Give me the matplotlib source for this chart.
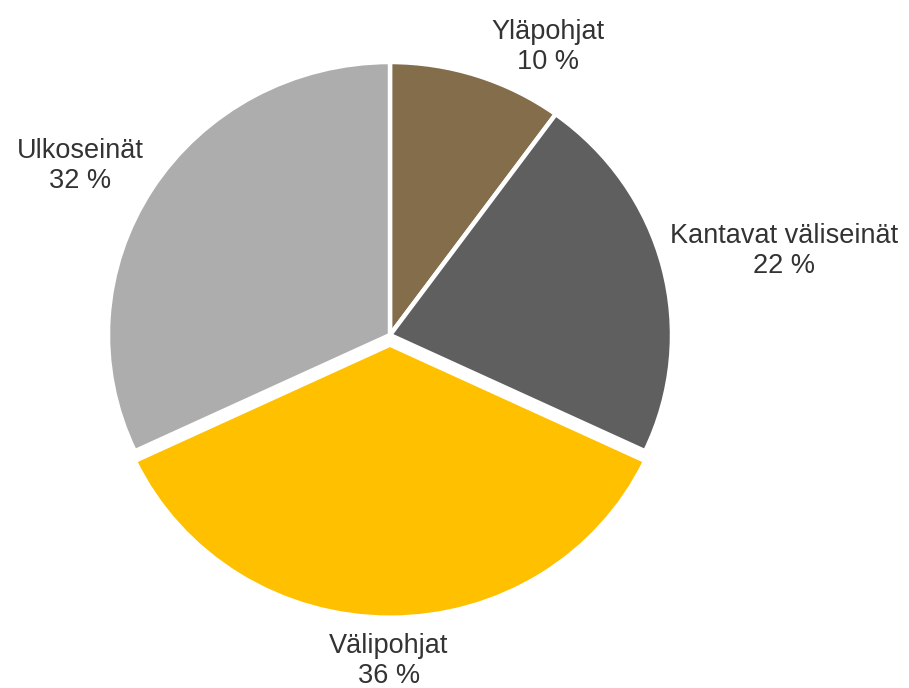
import matplotlib
matplotlib.use("Agg")
import matplotlib.pyplot as plt

# Data
labels = ["Yläpohjat", "Kantavat väliseinät", "Välipohjat", "Ulkoseinät"]
values = [10, 22, 36, 32]
colors = ["#836d4a", "#5f5f5f", "#ffc000", "#adadad"]
explode_px = [0, 0, 10, 0]

# label text centres, in pixels from the top-left of the image
label_xy = [(548, 47), (784, 251), (389, 661), (80, 166)]

plt.rcParams["font.family"] = ["Liberation Sans", "DejaVu Sans"]

W, H = 909, 688
sy = 0.968  # the reference pie is a little squashed vertically

fig = plt.figure(figsize=(W / 100, H / 100), dpi=100)
ax = fig.add_axes([0, 0, 1, 1])

ax.pie(
    values,
    colors=colors,
    explode=explode_px,
    startangle=90,
    counterclock=False,
    center=(390, (H - 335) / sy),
    radius=282,
    wedgeprops=dict(edgecolor="white", linewidth=3.2),
    frame=True,
)
ax.set_xlim(0, W)
ax.set_ylim(0, H / sy)
ax.set_aspect("auto")
ax.axis("off")

for name, val, (x, y) in zip(labels, values, label_xy):
    ax.text(x, (H - y) / sy, f"{name}\n{val} %", ha="center", va="center",
            fontsize=19.5, color="#333333", linespacing=1.22)

fig.savefig("out.png", dpi=100)
